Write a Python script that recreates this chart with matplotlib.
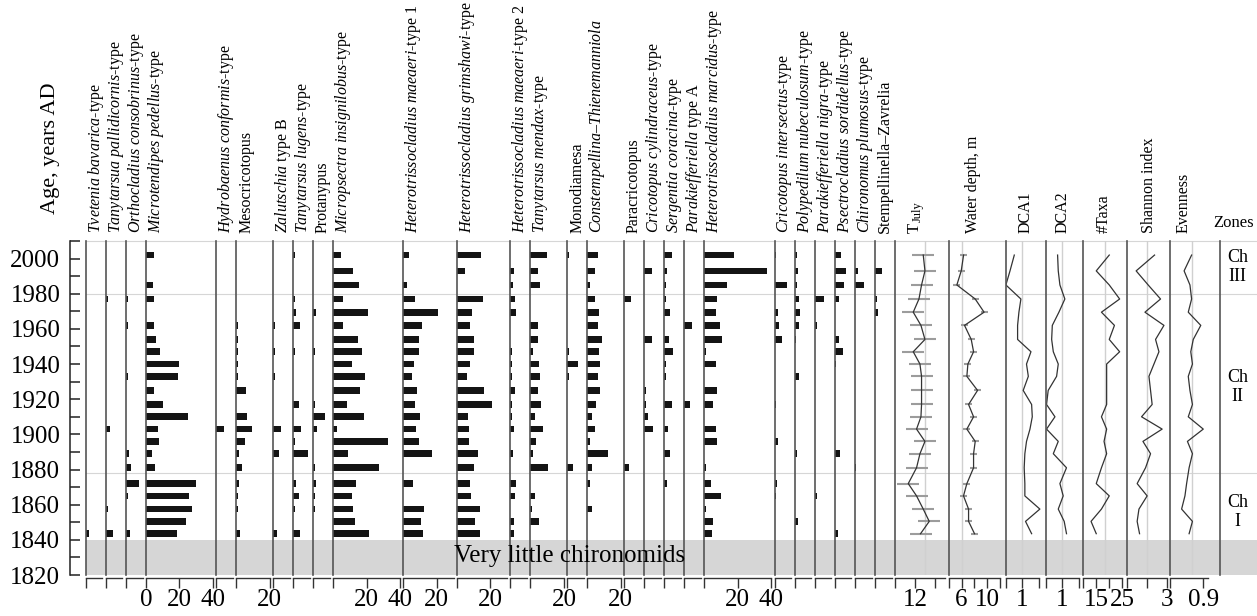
import numpy as np
import matplotlib.pyplot as plt

plt.rcParams['font.family'] = 'Liberation Serif'
plt.rcParams['mathtext.fontset'] = 'custom'
plt.rcParams['mathtext.rm'] = 'Liberation Serif'
plt.rcParams['mathtext.it'] = 'Liberation Serif:italic'


def it(s):
    # italic part of a taxon name
    return r'$\mathit{' + s.replace(' ', r'\ ') + '}$'


## DATA  (samples from top to bottom, age in years AD)

ages = [2002, 1993, 1985, 1977, 1969.5, 1962, 1954, 1947, 1940, 1933, 1925,
        1917, 1910, 1903, 1896, 1889, 1881, 1872, 1865, 1857.5, 1850.5, 1843.5]

# chironomid taxa, %
tvetenia      = [0, 0, 0, 0, 0, 0, 0, 0, 0, 0, 0, 0, 0, 0, 0, 0, 0, 0, 0, 0, 0, 2.0]
tany_pall     = [0, 0, 0, 1.4, 0, 0, 0, 0, 0, 0, 0, 0, 0, 2.4, 0, 0, 0, 0, 0, 1.2, 0, 4.4]
orthoclad     = [0, 0, 0, 1.2, 0, 1.2, 0, 0, 0, 1.2, 0, 0, 0, 0, 0, 1.6, 3.2, 8.0, 1.2, 0, 0, 2.2]
microtend     = [4.6, 0, 4.0, 4.6, 0, 4.6, 6.2, 8.7, 19.8, 19.2, 4.6, 10.3, 25.0, 7.0, 7.7, 3.6, 5.2, 30.0, 25.6, 27.8, 24.0, 18.8]
hydrobaenus   = [0, 0, 0, 0, 0, 0, 0, 0, 0, 0, 0, 0, 0, 5.0, 0, 0, 0, 0, 0, 0, 0, 0]
mesocric      = [0, 0, 0, 0, 0, 1.2, 1.2, 1.2, 1.2, 1.2, 6.0, 0, 6.3, 9.5, 5.4, 1.6, 3.2, 1.6, 1.0, 1.0, 0, 2.0]
zalutschia    = [0, 0, 0, 0, 0, 1.2, 0, 1.2, 0, 1.2, 0, 0, 0, 5.0, 0, 3.4, 0, 0, 0, 0, 0, 2.4]
tany_lugens   = [1.2, 0, 0, 1.2, 1.8, 4.4, 0, 1.2, 0, 0, 0, 3.4, 0, 5.0, 1.4, 9.1, 0, 1.8, 3.8, 1.2, 0, 4.4]
protanypus    = [0, 0, 0, 0, 2.0, 0, 0, 1.2, 0, 0, 0, 1.4, 7.0, 2.4, 0, 0, 1.2, 2.0, 1.2, 1.2, 0, 0]
micropsectra  = [4.4, 12.0, 15.5, 6.0, 20.8, 6.0, 14.9, 17.5, 11.1, 19.0, 15.9, 8.5, 18.3, 2.4, 32.7, 9.1, 27.4, 13.9, 11.1, 11.9, 13.3, 21.2]
het_maeaeri1  = [3.4, 0, 2.0, 6.7, 20.8, 11.3, 9.3, 9.3, 6.5, 5.0, 8.1, 6.9, 10.1, 7.5, 9.5, 17.0, 0, 6.0, 0, 12.3, 10.7, 11.9]
het_grimshawi = [14.5, 4.6, 0, 15.7, 9.1, 8.1, 10.3, 10.3, 8.1, 6.2, 16.0, 20.8, 6.5, 7.5, 7.5, 12.9, 10.3, 8.1, 8.5, 13.9, 10.7, 13.9]
het_maeaeri2  = [0, 2.0, 1.6, 2.8, 3.2, 0, 0, 1.0, 1.2, 1.0, 2.6, 1.0, 1.0, 2.0, 0, 1.6, 0, 3.6, 2.6, 0, 2.0, 2.0]
tany_mendax   = [9.7, 4.4, 5.6, 0, 0, 4.4, 4.4, 1.4, 5.0, 6.0, 4.4, 6.5, 2.8, 7.7, 3.2, 1.8, 10.3, 0, 2.8, 1.2, 5.0, 0]
monodiamesa   = [1.2, 0, 0, 0, 0, 0, 0, 1.2, 6.5, 1.2, 0, 0, 0, 0, 0, 0, 3.2, 0, 0, 0, 0, 0]
constempel    = [6.2, 4.4, 1.8, 4.4, 7.1, 6.2, 8.7, 6.7, 7.7, 6.2, 7.7, 5.0, 3.0, 4.4, 1.8, 12.3, 3.0, 1.8, 0, 3.0, 0, 0]
paracricot    = [0, 0, 0, 4.4, 0, 0, 0, 0, 0, 0, 0, 0, 0, 0, 0, 0, 3.2, 0, 0, 0, 0, 0]
cric_cylind   = [0, 4.4, 0, 0, 0, 0, 4.4, 0, 0, 0, 1.2, 1.0, 2.6, 5.0, 0, 0, 0, 0, 0, 0, 0, 0]
sergentia     = [4.4, 1.6, 1.2, 1.0, 3.4, 0, 2.8, 5.0, 1.2, 0.8, 0, 4.4, 0, 2.4, 0, 3.4, 0, 1.6, 0, 0, 0, 0]
parakief_a    = [0, 0, 0, 0, 0, 4.4, 0, 0, 0, 0, 0, 3.2, 0, 0, 0, 0, 0, 0, 0, 0, 0, 0]
het_marcidus  = [17.9, 37.5, 13.7, 7.7, 7.1, 9.3, 10.3, 1.2, 6.7, 0, 7.7, 5.0, 0, 7.1, 7.7, 0, 1.2, 4.0, 9.9, 1.2, 5.0, 4.6]
cric_intersec = [1.0, 0, 7.5, 0, 1.8, 2.8, 4.4, 0, 0, 0, 0, 1.0, 0, 0, 1.8, 0, 0, 1.6, 1.0, 0, 0, 0]
polypedilum   = [1.2, 2.2, 1.4, 2.8, 3.2, 2.8, 1.0, 0, 0, 2.6, 0, 0, 0, 0, 0, 1.4, 0, 0, 0, 0, 2.0, 0]
parakief_nig  = [0, 0, 0, 5.6, 0, 1.4, 0, 0, 0, 0, 0, 0, 0, 0, 0, 0, 0, 0, 1.2, 0, 0, 0]
psectroclad   = [4.0, 7.0, 5.4, 2.6, 0, 0, 2.8, 4.8, 1.0, 0, 0, 0, 0, 0, 0, 3.4, 0, 0, 0, 0, 0, 2.2]
chironomus    = [0, 2.0, 5.2, 0, 0, 0, 0, 0, 0, 0, 0, 0, 0, 0, 0, 0, 1.0, 0, 0, 0, 0, 0]
stempellin    = [0, 4.2, 0, 1.2, 1.6, 0, 0, 0, 0, 0, 0, 0, 0, 0, 0, 0, 0, 0, 0, 0, 0, 0]

taxa_labels = [
    it('Tvetenia bavarica') + '-type',
    it('Tanytarsua pallidicornis') + '-type',
    it('Orthocladius consobrinus') + '-type',
    it('Microtendipes pedellus') + '-type',
    it('Hydrobaenus conformis') + '-type',
    'Mesocricotopus',
    it('Zalutschia') + ' type B',
    it('Tanytarsus lugens') + '-type',
    'Protanypus',
    it('Micropsectra insignilobus') + '-type',
    it('Heterotrissocladius maeaeri') + '-type 1',
    it('Heterotrissocladius grimshawi') + '-type',
    it('Heterotrissocladius maeaeri') + '-type 2',
    it('Tanytarsus mendax') + '-type',
    'Monodiamesa',
    it('Constempellina') + '\u2013' + it('Thienemanniola'),
    'Paracricotopus',
    it('Cricotopus cylindraceus') + '-type',
    it('Sergentia coracina') + '-type',
    it('Parakiefferiella') + ' type A',
    it('Heterotrissocladius marcidus') + '-type',
    it('Cricotopus intersectus') + '-type',
    it('Polypedilum nubeculosum') + '-type',
    it('Parakiefferiella nigra') + '-type',
    it('Psectrocladius sordidellus') + '-type',
    it('Chironomus plumosus') + '-type',
    'Stempellinella\u2013Zavrelia',
]
taxa_values = [tvetenia, tany_pall, orthoclad, microtend, hydrobaenus, mesocric,
               zalutschia, tany_lugens, protanypus, micropsectra, het_maeaeri1,
               het_grimshawi, het_maeaeri2, tany_mendax, monodiamesa, constempel,
               paracricot, cric_cylind, sergentia, parakief_a, het_marcidus,
               cric_intersec, polypedilum, parakief_nig, psectroclad, chironomus,
               stempellin]
# which % ticks carry a number under each taxon
taxa_tick_labels = [[], [], [], [0, 20, 40], [], [20], [], [], [], [20, 40],
                    [20], [20], [], [20], [], [20], [], [], [], [], [20, 40],
                    [], [], [], [], [], []]

# reconstructions and indices
t_july = [12.83, 13.0, 12.66, 12.4, 11.83, 12.6, 13.0, 11.83, 12.5, 12.66, 12.66,
          12.66, 12.6, 12.16, 13.0, 12.5, 12.16, 11.33, 12.16, 12.83, 13.43, 12.56]
water_depth = [6.31, 5.94, 5.25, 8.15, 9.55, 6.46, 7.52, 7.89, 6.99, 6.83, 8.52,
               7.1, 7.89, 6.83, 8.15, 7.89, 7.89, 6.83, 6.3, 7.1, 7.1, 8.04]
dca1 = [0.53, 0.27, 0.02, 0.93, 0.81, 0.73, 0.73, 1.54, 1.27, 1.38, 1.07,
        1.58, 1.62, 1.48, 1.27, 1.17, 1.13, 1.17, 1.17, 2.08, 1.21, 1.58]
dca2 = [0.73, 0.77, 0.87, 1.17, 0.81, 0.41, 0.37, 0.47, 0.77, 0.67, 0.16,
        0.06, 0.57, 0.06, 0.77, 0.47, 1.27, 0.87, 1.07, 0.77, 1.13, 1.27]
n_taxa = [20, 15, 20, 24, 17, 22, 20, 24, 19, 19, 19, 19, 17, 19, 18, 19, 17, 15, 20, 17, 13, 15]
shannon = [2.40, 1.48, 2.08, 2.70, 1.92, 2.87, 2.45, 2.62, 2.37, 2.12, 2.20,
           2.28, 1.75, 2.78, 1.82, 2.20, 1.95, 1.53, 2.03, 1.62, 1.53, 1.65]
evenness = [0.76, 0.67, 0.74, 0.76, 0.72, 0.87, 0.78, 0.75, 0.77, 0.72, 0.74,
            0.77, 0.72, 0.90, 0.71, 0.77, 0.73, 0.70, 0.68, 0.64, 0.77, 0.73]
t_july_err = 1.1
water_depth_err = 0.55

curve_labels = ['T', 'Water depth, m', 'DCA1', 'DCA2', '#Taxa',
                'Shannon index', 'Evenness']
curve_values = [t_july, water_depth, dca1, dca2, n_taxa, shannon, evenness]
curve_ticks = [[10, 12, 14], [4, 6, 8, 10, 12], [0, 1, 2], [0, 1, 2],
               [10, 15, 20, 25], [1, 2, 3], [0.5, 0.9]]
curve_tick_labels = [[12], [6, 10], [1], [1], [15, 25], [3], [0.9]]
curve_refs = [13, 6, 1, 1, 18.5, 2, 0.76]

zones = ['Ch\nIII', 'Ch\nII', 'Ch\nI']
zone_centres = [1995, 1927, 1856]
zone_bounds = [1980, 1878]

## LAYOUT (pixels)

W, H = 1257, 616
TOP, BOT = 241, 575          # y of 2010 and 1820
X0 = 85.7                    # left edge of first taxon panel
PX_PER_PCT = 1.672
taxa_width = [12, 12, 12, 42, 12, 22, 12, 12, 12, 42, 32, 32, 12, 22, 12, 22,
              12, 12, 12, 12, 42, 12, 12, 12, 12, 12, 12]      # in %
curve_width = [54, 56.6, 40, 37.7, 43.3, 43.4, 50]            # in px
curve_left = [10, 4, 0, 0, 10, 1, 0.5]                         # value at left edge
curve_scale = [10, 6.33, 16.5, 16.5, 2.6, 20, 83.3]            # px per unit
curve_spine_end = [15, 12, 2, 2, 25, 3, 0.96]
curve_label_dx = [19.5, 24, 20, 16.7, 20.7, 22.4, 13.3]
LABEL_Y = 233
LINE_COL = '#555555'
TICK_LEN = 7.2   # 10 px


def box(x0, w):
    return [x0 / W, 1 - BOT / H, w / W, (BOT - TOP) / H]


def style_panel(ax):
    ax.set_facecolor('none')
    ax.set_ylim(1820, 2010)
    ax.set_yticks([])
    for s in ('top', 'right'):
        ax.spines[s].set_visible(False)
    ax.spines['left'].set_color(LINE_COL)
    ax.spines['left'].set_linewidth(1.2)
    ax.spines['bottom'].set_position(('outward', 2.2))
    ax.spines['bottom'].set_color('#333333')
    ax.spines['bottom'].set_linewidth(1.0)
    ax.tick_params(axis='x', direction='out', length=TICK_LEN, width=1.0,
                   color='#333333', labelsize=18, pad=0.5)


fig = plt.figure(figsize=(W / 100, H / 100), dpi=100)

# background band and zone lines
bg = fig.add_axes(box(X0, W - X0))
bg.set_xlim(0, 1)
bg.set_ylim(1820, 2010)
bg.axis('off')
bg.axhspan(1820, 1840, color='#d6d6d6', lw=0)
for yl in [2010] + zone_bounds:
    bg.axhline(yl, color='#d6d6d6', lw=0.8, clip_on=False)

# age axis
age_ax = fig.add_axes(box(70, 1))
age_ax.set_facecolor('none')
age_ax.set_ylim(1820, 2010)
age_ax.set_xticks([])
for s in ('top', 'right', 'bottom'):
    age_ax.spines[s].set_visible(False)
age_ax.spines['left'].set_color('#222222')
age_ax.spines['left'].set_linewidth(1.1)
age_ax.set_yticks(np.arange(1820, 2001, 20))
age_ax.set_yticks(np.arange(1830, 2011, 20), minor=True)
age_ax.tick_params(axis='y', which='both', direction='in', length=TICK_LEN,
                   width=1.1, color='#222222', labelsize=18, pad=7)
fig.text(50 / W, 1 - 148 / H, 'Age, years AD', rotation=90, ha='center',
         va='center', fontsize=16)

# taxon panels (bars)
x = X0
for label, vals, wpct, shown in zip(taxa_labels, taxa_values, taxa_width, taxa_tick_labels):
    wpx = wpct * PX_PER_PCT
    ax = fig.add_axes(box(x, wpx))
    style_panel(ax)
    ax.set_xlim(0, wpct)
    ax.barh(ages, vals, height=3.8, color='#141414', lw=0)
    ticks = [t for t in (0, 20, 40) if t <= wpct - 2]
    ax.set_xticks(ticks)
    ax.set_xticklabels([str(t) if t in shown else '' for t in ticks])
    ax.spines['bottom'].set_bounds(0, wpct - 2)
    fig.text((x + 10) / W, 1 - LABEL_Y / H, label, rotation=90, ha='center',
             va='bottom', fontsize=11.5)
    x += wpx

# curve panels
for label, vals, wpx, lo, sc, ticks, shown, ref, end, dx in zip(
        curve_labels, curve_values, curve_width, curve_left, curve_scale,
        curve_ticks, curve_tick_labels, curve_refs, curve_spine_end, curve_label_dx):
    ax = fig.add_axes(box(x, wpx))
    style_panel(ax)
    ax.set_xlim(lo, lo + wpx / sc)
    ax.axvline(ref, color='#d0d0d0', lw=1.0, zorder=0)
    if label == 'T':
        ax.errorbar(vals, ages, xerr=t_july_err, fmt='none', ecolor='#9c9c9c',
                    elinewidth=1.5, capsize=0, zorder=1)
        # subscript of T_July
        fig.text((x + dx + 3.5) / W, 1 - (LABEL_Y - 11) / H, 'July', rotation=90,
                 ha='center', va='bottom', fontsize=9)
    if label.startswith('Water'):
        ax.errorbar(vals, ages, xerr=water_depth_err, fmt='none', ecolor='#9c9c9c',
                    elinewidth=1.5, capsize=0, zorder=1)
    ax.plot(vals, ages, color='#333333', lw=0.9, zorder=2)
    ax.set_xticks(ticks)
    ax.set_xticklabels([('%g' % t) if t in shown else '' for t in ticks])
    ax.spines['bottom'].set_bounds(lo, end)
    fig.text((x + dx) / W, 1 - LABEL_Y / H, label, rotation=90, ha='center',
             va='bottom', fontsize=12 if label == 'T' else 11.5)
    x += wpx

# zones column
zax = fig.add_axes(box(x, W - x))
zax.set_facecolor('none')
zax.set_ylim(1820, 2010)
zax.set_xlim(0, 1)
zax.set_xticks([])
zax.set_yticks([])
for s in ('top', 'right', 'bottom'):
    zax.spines[s].set_visible(False)
zax.spines['left'].set_color(LINE_COL)
zax.spines['left'].set_linewidth(1.2)
for z, yc in zip(zones, zone_centres):
    zax.text(0.47, yc, z, ha='center', va='center', fontsize=13, linespacing=1.15)
fig.text(1234 / W, 1 - 223 / H, 'Zones', ha='center', va='center', fontsize=12)

fig.text(570 / W, 1 - 556 / H, 'Very little chironomids', ha='center',
         va='center', fontsize=18)

fig.savefig('out.png', dpi=100)
